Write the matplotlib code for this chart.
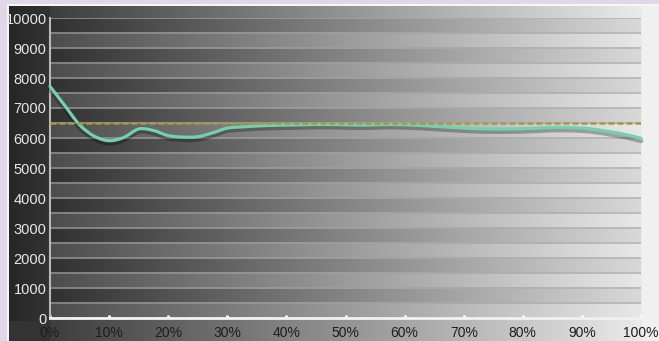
import numpy as np
import matplotlib
matplotlib.use("Agg")
import matplotlib.pyplot as plt
from matplotlib import transforms
from matplotlib.path import Path
from matplotlib.patches import PathPatch

# ---- data ----
gray_pct = [0, 2.5, 5, 7.5, 10, 12.5, 15, 17.5, 20, 22.5, 25, 27.5, 30, 32.5, 35,
            37.5, 40, 42.5, 45, 47.5, 50, 52.5, 55, 57.5, 60, 62.5, 65, 67.5, 70,
            72.5, 75, 77.5, 80, 82.5, 85, 87.5, 90, 92.5, 95, 97.5, 100]
cct = [7720, 7080, 6440, 6060, 5910, 6020, 6300, 6250, 6080, 6030, 6040, 6170, 6330,
       6370, 6400, 6420, 6430, 6440, 6450, 6450, 6440, 6430, 6440, 6450, 6440, 6420,
       6390, 6360, 6330, 6310, 6300, 6300, 6310, 6330, 6350, 6350, 6330, 6280, 6200,
       6110, 5990]
target_cct = 6500
y_ticks = list(range(0, 10001, 1000))
x_ticks = list(range(0, 101, 10))
x_labels = [f"{v}%" for v in x_ticks]

plt.rcParams["font.family"] = ["Liberation Sans", "DejaVu Sans"]

W, H = 659, 341
fig = plt.figure(figsize=(W / 100, H / 100), dpi=100)

# ---- figure background ----
bg = np.zeros((H, W, 3))
xs = np.arange(W)
t = np.clip((xs - 50) / (641 - 50), 0, 1)
g = 0.24 + 0.68 * t
g[xs > 641] = 0.945
g[xs < 50] = 0.14 + 0.0012 * (xs[xs < 50])
bg[:] = g[None, :, None]
# bottom strip below the axis a little lighter at the left (under "0%")
bot = np.arange(H) > 320
bg[bot, 9:50, :] = 0.2
lav = np.array([0.89, 0.84, 0.915])
bg[:4, :, :] = lav
bg[:, :7, :] = lav
bg[4:6, 7:, :] = 0.97
bg[4:, 7:9, :] = 0.97
bgax = fig.add_axes([0, 0, 1, 1])
bgax.imshow(bg, aspect="auto", extent=[0, W, H, 0], interpolation="nearest")
bgax.set_axis_off()

# ---- plot axes ----
ax = fig.add_axes([50 / W, 23 / H, 591 / W, 300 / H])
ax.set_xlim(0, 100)
ax.set_ylim(0, 10000)
ax.patch.set_alpha(0)

ph, pw = 300, 591
v = 10000 * (1 - (np.arange(ph) + 0.5) / ph)
tt = np.linspace(0, 1, pw)
dark = 0.19 + 0.66 * tt
light = dark + 0.11 - 0.05 * tt
linec = 0.50 + 0.24 * tt
img = np.where(((v % 1000) >= 500)[:, None], dark[None, :], light[None, :])
d = np.minimum(v % 500, 500 - (v % 500))
img = np.where((d < 36)[:, None], linec[None, :], img)
img = np.repeat(img[:, :, None], 3, axis=2)
ax.imshow(img, extent=[0, 100, 0, 10000], aspect="auto", interpolation="nearest", zorder=0)

# target dashed line
ax.axhline(target_cct, color="#a89a3c", lw=1.8, dashes=(2.4, 1.2), zorder=5)

# smooth curve through the measured points (Catmull-Rom as cubic Bezier path)
P = np.column_stack([gray_pct, cct]).astype(float)
n = len(P)
verts = [P[0]]
codes = [Path.MOVETO]
for i in range(n - 1):
    p0 = P[i - 1] if i > 0 else P[i]
    p1, p2 = P[i], P[i + 1]
    p3 = P[i + 2] if i + 2 < n else P[i + 1]
    verts += [p1 + (p2 - p0) / 6, p2 - (p3 - p1) / 6, p2]
    codes += [Path.CURVE4] * 3
path = Path(verts, codes)

shadow = ax.transData + transforms.ScaledTranslation(0, -2.5 / 100, fig.dpi_scale_trans)
ax.add_patch(PathPatch(path, fill=False, edgecolor="black", alpha=0.28, lw=3.5,
                       transform=shadow, zorder=3, clip_on=False, capstyle="round"))
ax.add_patch(PathPatch(path, fill=False, edgecolor="#72d0b3", lw=2.3, zorder=4,
                       clip_on=False, capstyle="round"))

for s in ("top", "right"):
    ax.spines[s].set_visible(False)
ax.spines["left"].set_color("#b8b8b8")
ax.spines["left"].set_linewidth(1.5)
ax.spines["bottom"].set_color("#f2f2f2")
ax.spines["bottom"].set_linewidth(2)

ax.set_yticks(y_ticks)
ax.set_yticklabels([str(v) for v in y_ticks])
ax.tick_params(axis="y", length=0, pad=2.5, labelsize=10.5, labelcolor="#e8e8e8")
ax.set_xticks(x_ticks)
ax.set_xticklabels(x_labels)
ax.tick_params(axis="x", direction="in", length=2.5, width=2, color="white",
               pad=5.5, labelsize=10, labelcolor="#1e1e1e")

fig.savefig("out.png", dpi=100)
